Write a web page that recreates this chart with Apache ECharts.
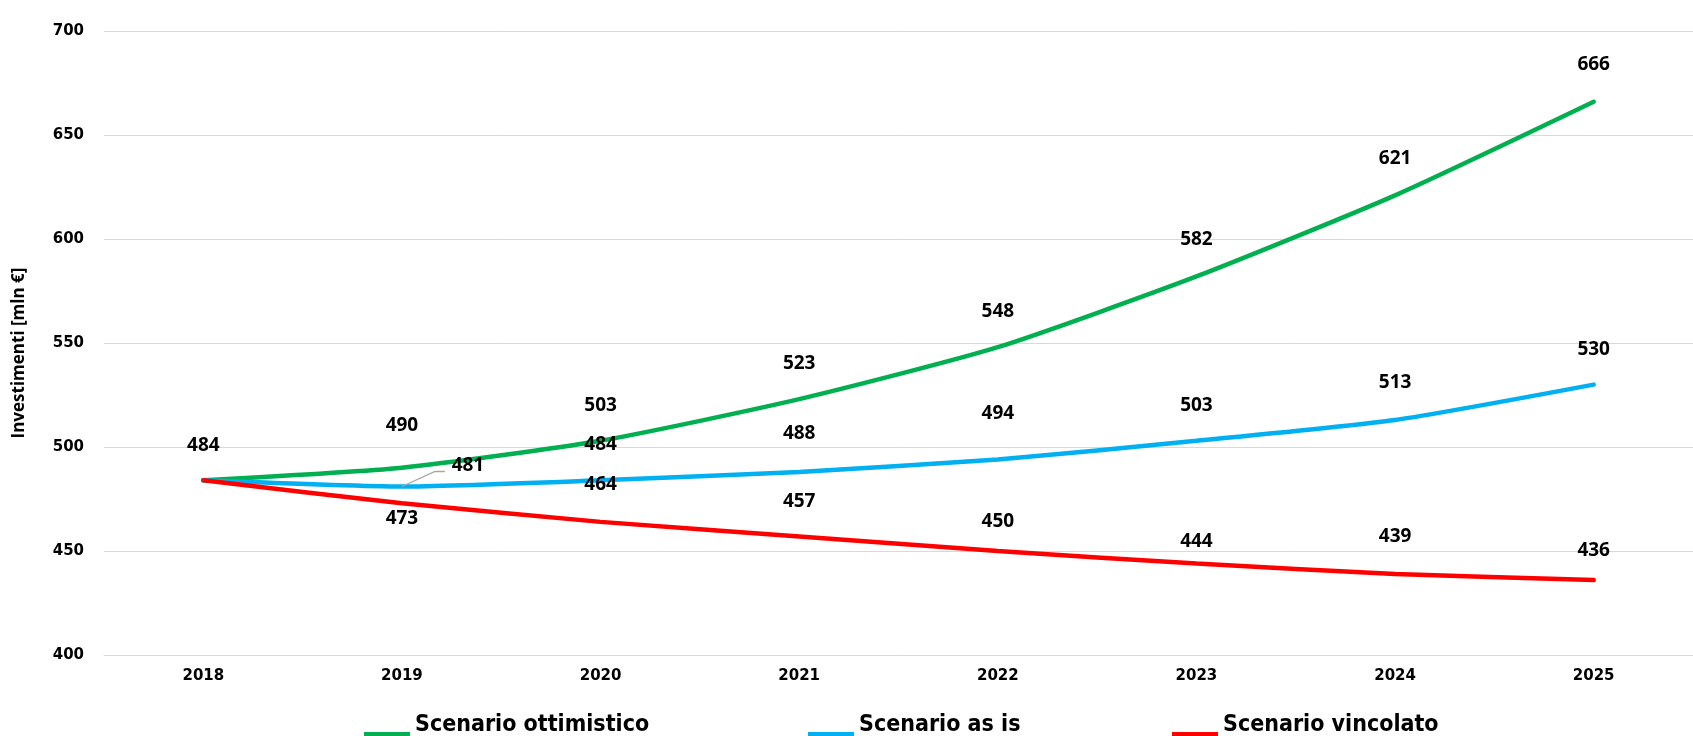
<!DOCTYPE html>
<html><head><meta charset="utf-8">
<script src="https://cdn.jsdelivr.net/npm/echarts@6/dist/echarts.min.js"></script>
<style>html,body{margin:0;padding:0;background:#fff}#c{width:1693px;height:736px}</style>
</head><body><div id="c"></div>
<script>
const years = ['2018','2019','2020','2021','2022','2023','2024','2025'];
const ottimistico = [484, 490, 503, 523, 548, 582, 621, 666];
const asIs = [484, 481, 484, 488, 494, 503, 513, 530];
const vincolato = [484, 473, 464, 457, 450, 444, 439, 436];
const yTicks = [400, 450, 500, 550, 600, 650, 700];
const names = ['Scenario ottimistico', 'Scenario as is', 'Scenario vincolato'];

// label vertical offsets (px) per point; null = hidden
const offG = [-35, -42, -35, -36, -36, -37, -37, -37];
const offB = [null, 'leader', -36, -38, -46, -35, -37, -35];
const offR = [null, 15, -37, -35, -29, -22, -37, -30];

const labelFont = {fontFamily: '"Open Sans", sans-serif', fontWeight: 'bold', fontSize: 19, color: '#000'};

function mk(vals, offs) {
  return vals.map((v, i) => {
    const o = offs[i];
    if (o === null) return {value: v, label: {show: false}};
    if (o === 'leader') return {value: v, label: {show: true, position: 'inside', offset: [66, -21], ...labelFont}};
    return {value: v, label: {show: true, position: 'inside', offset: [0, o], ...labelFont}};
  });
}
const colors = ['#00B050', '#00B0F0', '#FF0000'];
function lineSeries(name, vals, offs, color) {
  return {
    name, type: 'line', data: mk(vals, offs), smooth: 0.2,
    symbol: 'circle', symbolSize: 1, showSymbol: true,
    lineStyle: {width: 4.5, color, cap: 'round'}, itemStyle: {color},
    emphasis: {disabled: true}, z: 3
  };
}
const legendText = {fontFamily: '"Liberation Sans Narrow", "DejaVu Sans Condensed", sans-serif', fontWeight: 'bold', fontSize: 23, color: '#000'};
const legendIcon = 'path://M0,0 L0.01,0 L0,0.01 Z M0,28 L46,28 L46,42 L0,42 Z';
function legend(name, left) {
  return {data: [name], left, top: 704, padding: 0, icon: legendIcon, itemWidth: 46, itemHeight: 42, selectedMode: false, textStyle: legendText};
}
const chart = echarts.init(document.getElementById('c'));
chart.setOption({
  animation: false,
  backgroundColor: '#fff',
  grid: {left: 104, top: 31, width: 1613, height: 624, containLabel: false},
  legend: [legend(names[0], 364), legend(names[1], 808), legend(names[2], 1172)],
  xAxis: {
    type: 'category', data: years, boundaryGap: true,
    axisTick: {show: false}, axisLine: {show: true, lineStyle: {color: '#d9d9d9', width: 1}},
    axisLabel: {margin: 14, fontFamily: '"DejaVu Sans", sans-serif', fontWeight: 'bold', fontSize: 15, color: '#000'}
  },
  yAxis: {
    type: 'value', min: yTicks[0], max: yTicks[yTicks.length - 1], interval: 50,
    name: 'Investimenti [mln €]', nameLocation: 'middle', nameRotate: 90, nameGap: 76,
    nameTextStyle: {fontFamily: '"Open Sans", sans-serif', fontWeight: 'bold', fontSize: 17, color: '#000', padding: [0, 20, 0, 0]},
    axisLine: {show: false}, axisTick: {show: false},
    splitLine: {lineStyle: {color: '#d9d9d9', width: 1}},
    axisLabel: {margin: 20, fontFamily: '"DejaVu Sans", sans-serif', fontWeight: 'bold', fontSize: 15, color: '#000'}
  },
  series: [
    lineSeries(names[0], ottimistico, offG, colors[0]),
    lineSeries(names[1], asIs, offB, colors[1]),
    lineSeries(names[2], vincolato, offR, colors[2]),
    {
      type: 'custom', silent: true, z: 4,
      data: [[1, asIs[1]]],
      renderItem: function (params, api) {
        const p = api.coord([api.value(0), api.value(1)]);
        return {type: 'polyline', shape: {points: [p, [p[0] + 33, p[1] - 15], [p[0] + 43, p[1] - 15]]},
          style: {stroke: '#a6a6a6', lineWidth: 1.3, fill: null}};
      }
    }
  ]
});
</script></body></html>
